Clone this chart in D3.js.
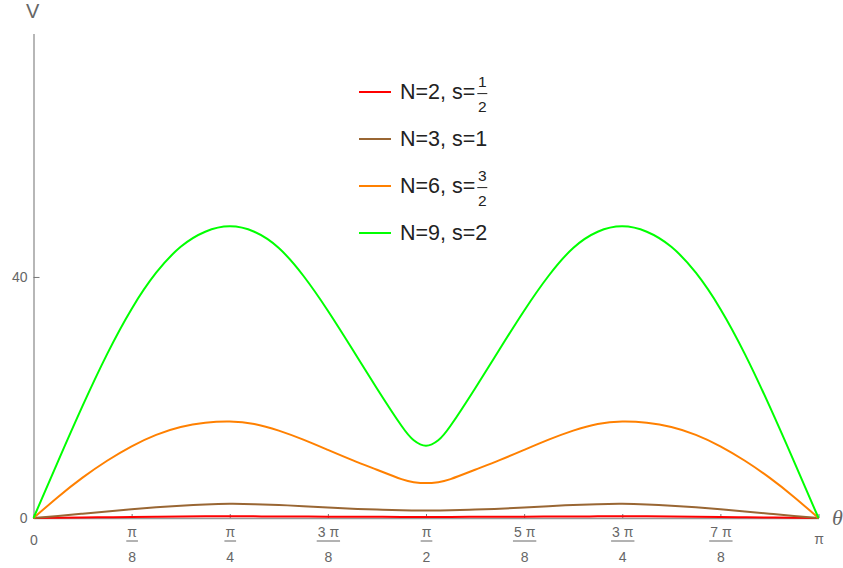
<!DOCTYPE html>
<html>
<head>
<meta charset="utf-8">
<script src="https://cdn.jsdelivr.net/npm/d3@7/dist/d3.min.js"></script>
<style>
  html, body { margin: 0; padding: 0; background: #fff; }
  svg { display: block; }
</style>
</head>
<body>
<svg id="chart" width="843" height="568"></svg>
<script>
// ---- data ----
// theta in units of pi
const theta = [0, 0.03125, 0.0625, 0.09375, 0.125, 0.15625, 0.1875, 0.21875, 0.25,
  0.28125, 0.3125, 0.34375, 0.375, 0.40625, 0.4375, 0.46875, 0.484375, 0.5, 0.515625,
  0.53125, 0.5625, 0.59375, 0.625, 0.65625, 0.6875, 0.71875, 0.75,
  0.78125, 0.8125, 0.84375, 0.875, 0.90625, 0.9375, 0.96875, 1];

const vN2 = [0, 0.03, 0.08, 0.13, 0.18, 0.22, 0.25, 0.27, 0.28, 0.27, 0.26, 0.24, 0.22, 0.2, 0.19, 0.18, 0.18, 0.18, 0.18,
  0.18, 0.19, 0.2, 0.22, 0.24, 0.26, 0.27, 0.28, 0.27, 0.25, 0.22, 0.18, 0.13, 0.08, 0.03, 0];
const vN3 = [0, 0.33, 0.71, 1.09, 1.45, 1.78, 2.05, 2.25, 2.35, 2.3, 2.16, 1.96, 1.74, 1.54, 1.39, 1.29, 1.26, 1.25, 1.26,
  1.29, 1.39, 1.54, 1.74, 1.96, 2.16, 2.3, 2.35, 2.25, 2.05, 1.78, 1.45, 1.09, 0.71, 0.33, 0];
const vN6 = [0, 3.5, 6.7, 9.5, 11.9, 13.8, 15.1, 15.8, 16.0, 15.6, 14.5, 13.0, 11.3, 9.6, 8.0, 6.45, 5.95, 5.8, 5.95,
  6.45, 8.0, 9.6, 11.3, 13.0, 14.5, 15.6, 16.0, 15.8, 15.1, 13.8, 11.9, 9.5, 6.7, 3.5, 0];
const vN9 = [0, 9.4, 18.6, 27.2, 34.7, 40.7, 45.0, 47.5, 48.4, 47.5, 44.8, 40.2, 34.4, 28.0, 21.5, 15.3, 12.9, 12.0, 12.9,
  15.3, 21.5, 28.0, 34.4, 40.2, 44.8, 47.5, 48.4, 47.5, 45.0, 40.7, 34.7, 27.2, 18.6, 9.4, 0];

const seriesValues = [vN2, vN3, vN6, vN9];
const legendMain = ["N=2, s=", "N=3, s=1", "N=6, s=", "N=9, s=2"];
const legendNum = ["1", "", "3", ""];
const legendDen = ["2", "", "2", ""];
const seriesColors = ["#ff0000", "#996633", "#ff8000", "#00ff00"];

const xTicks = [0, 0.125, 0.25, 0.375, 0.5, 0.625, 0.75, 0.875, 1];
const xTickNum = ["0", "π", "π", "3 π", "π", "5 π", "3 π", "7 π", "π"];
const xTickDen = ["", "8", "4", "8", "2", "8", "4", "8", ""];
const yTicks = [0, 40];
const yMax = 80.4;

// ---- layout ----
const svg = d3.select("#chart");
const FONT = "'Liberation Sans', Arial, sans-serif";
const labelColor = "#666";
const x = d3.scaleLinear().domain([0, 1]).range([33.5, 818.5]);
const y = d3.scaleLinear().domain([0, yMax]).range([518, 33.5]);

// axes
const gx = svg.append("g").attr("transform", `translate(0,${y(0)})`)
  .call(d3.axisBottom(x).tickValues(xTicks).tickSizeInner(-4).tickSizeOuter(0).tickFormat(""));
gx.select(".domain").attr("stroke", "#999").attr("stroke-width", 1.4);
gx.selectAll(".tick line").attr("stroke", "#777").attr("stroke-width", 1);
gx.selectAll(".tick").each(function(d, i) {
  const g = d3.select(this);
  const num = xTickNum[i], den = xTickDen[i];
  if (!den) {
    g.append("text").attr("x", 0).attr("y", num === "0" ? 27 : 26)
      .attr("text-anchor", "middle").attr("fill", labelColor)
      .style("font-family", FONT).style("font-size", "14px").text(num);
  } else {
    const t = g.append("text").attr("x", 0).attr("y", 19)
      .attr("text-anchor", "middle").attr("fill", labelColor)
      .style("font-family", FONT).style("font-size", "14px").text(num);
    const w = t.node().getComputedTextLength() + 2;
    g.append("line").attr("x1", -w / 2).attr("x2", w / 2).attr("y1", 23).attr("y2", 23)
      .attr("stroke", labelColor).attr("stroke-width", 1);
    g.append("text").attr("x", 0).attr("y", 43.5)
      .attr("text-anchor", "middle").attr("fill", labelColor)
      .style("font-family", FONT).style("font-size", "14px").text(den);
  }
});

const gy = svg.append("g").attr("transform", `translate(${x(0)},0)`)
  .call(d3.axisLeft(y).tickValues(yTicks).tickSizeInner(-6).tickSizeOuter(0).tickPadding(6));
gy.select(".domain").attr("stroke", "#999").attr("stroke-width", 1.4);
gy.selectAll(".tick line").attr("stroke", "#777");
gy.selectAll(".tick text").attr("fill", labelColor)
  .style("font-family", FONT).style("font-size", "14px");

// axis labels
svg.append("text").attr("x", 32.7).attr("y", 18.3).attr("text-anchor", "middle")
  .attr("fill", labelColor).style("font-family", FONT).style("font-size", "20px").text("V");
svg.append("text").attr("x", 832).attr("y", 524.5)
  .attr("fill", labelColor).style("font-family", "'Liberation Serif', 'Times New Roman', serif")
  .style("font-style", "italic").style("font-size", "22px").text("θ");

// curves
const line = d3.line().x((d, i) => x(theta[i])).y(d => y(d)).curve(d3.curveNatural);
seriesValues.forEach((vals, k) => {
  svg.append("path").datum(vals).attr("d", line)
    .attr("fill", "none").attr("stroke", seriesColors[k]).attr("stroke-width", 2)
    .attr("stroke-linejoin", "round");
});

// legend
const legendY0 = 92, legendStep = 47;
legendMain.forEach((txt, k) => {
  const ly = legendY0 + k * legendStep;
  svg.append("line").attr("x1", 359).attr("x2", 391).attr("y1", ly).attr("y2", ly)
    .attr("stroke", seriesColors[k]).attr("stroke-width", 2);
  const t = svg.append("text").attr("x", 400).attr("y", ly + 6.5)
    .attr("fill", "#222").style("font-family", FONT).style("font-size", "21.5px").text(txt);
  if (legendNum[k]) {
    const fx = 400 + t.node().getComputedTextLength() + 7;
    svg.append("text").attr("x", fx).attr("y", ly - 5.3).attr("text-anchor", "middle")
      .attr("fill", "#222").style("font-family", FONT).style("font-size", "15.5px").text(legendNum[k]);
    svg.append("line").attr("x1", fx - 5).attr("x2", fx + 5).attr("y1", ly + 1.6).attr("y2", ly + 1.6)
      .attr("stroke", "#222").attr("stroke-width", 1);
    svg.append("text").attr("x", fx).attr("y", ly + 19.5).attr("text-anchor", "middle")
      .attr("fill", "#222").style("font-family", FONT).style("font-size", "15.5px").text(legendDen[k]);
  }
});
</script>
</body>
</html>
